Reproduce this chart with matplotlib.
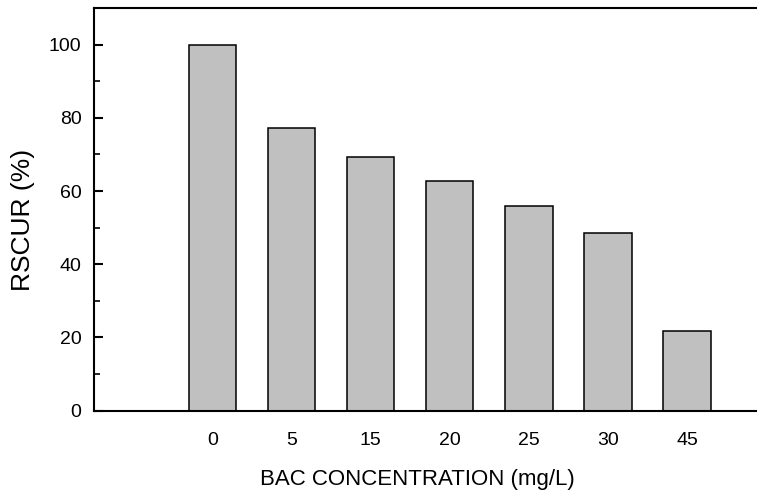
import matplotlib
matplotlib.use("Agg")
import matplotlib.pyplot as plt
from matplotlib.ticker import MultipleLocator

plt.rcParams['font.family'] = ['Liberation Sans', 'DejaVu Sans']

concentrations = ["0", "5", "15", "20", "25", "30", "45"]
rscur = [100, 77.1, 69.3, 62.8, 56.0, 48.6, 21.8]

W, H = 757, 496
fig = plt.figure(figsize=(W / 100, H / 100), dpi=100)
left_px, right_px, top_px, bottom_px = 94, 766, 8, 410.7
ax = fig.add_axes([left_px / W, 1 - bottom_px / H,
                   (right_px - left_px) / W, (bottom_px - top_px) / H])

x = list(range(len(concentrations)))
ax.bar(x, rscur, width=0.6, color='#c0c0c0', edgecolor='black', linewidth=1.1)

ax.set_xlim(-1.5, 7.0)
ax.set_ylim(0, 110)
ax.set_xticks(x)
ax.set_xticklabels(concentrations)
ax.yaxis.set_major_locator(MultipleLocator(20))
ax.yaxis.set_minor_locator(MultipleLocator(10))

for side in ['left', 'bottom', 'top']:
    ax.spines[side].set_linewidth(1.5)
ax.spines['right'].set_visible(False)

ax.tick_params(axis='x', length=0, labelsize=14, pad=15)
ax.tick_params(axis='y', which='major', direction='in', length=6.5, width=1.5,
               labelsize=14, pad=9)
ax.tick_params(axis='y', which='minor', direction='in', length=4, width=1.2)

# Axis titles placed in figure pixel coordinates
fig.text(417 / W, 1 - 479 / H, 'BAC CONCENTRATION (mg/L)', fontsize=16,
         ha='center', va='center')
fig.text(23 / W, 1 - 220 / H, 'RSCUR (%)', fontsize=19, rotation=90,
         ha='center', va='center')

fig.savefig('out.png', dpi=100)
